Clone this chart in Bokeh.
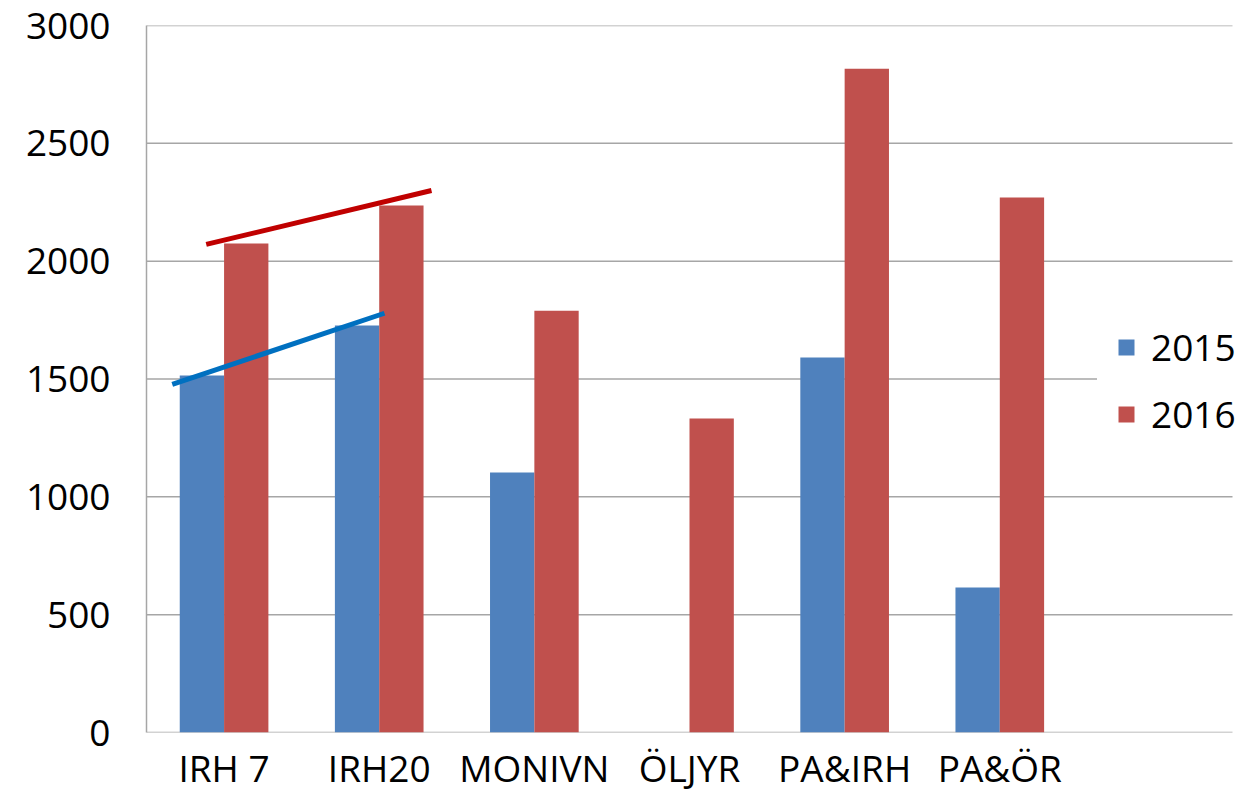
import numpy as np
from bokeh.plotting import figure
from bokeh.models import Range1d, FixedTicker, Legend, LegendItem, ColumnDataSource
from bokeh.embed import file_html
from bokeh.resources import INLINE

categories = ["IRH 7", "IRH20", "MONIVN", "ÖLJYR", "PA&IRH", "PA&ÖR"]
values_2015 = [1515, 1727, 1103, 0, 1591, 615]
values_2016 = [2075, 2236, 1790, 1332, 2817, 2270]
series_names = ["2015", "2016"]
y_ticks = [0, 500, 1000, 1500, 2000, 2500, 3000]
# hand-drawn trend lines (x in category units, y in data units)
trend_2015_x = [0.166, 1.534]
trend_2015_y = [1477, 1779]
trend_2016_x = [0.385, 1.837]
trend_2016_y = [2071, 2300]

n_slots = 7
FONT = "Open Sans"
BLUE = "#4F81BD"
RED = "#C0504D"
GRID = "#A6A6A6"

W, H = 1237, 796
left, top, bottom = 146, 25, 64
slot_px = 1086 / n_slots
x_end = (W - left) / slot_px  # frame runs to canvas edge; grid stops at n_slots

p = figure(width=W, height=H, output_backend="svg", toolbar_location=None,
           x_range=Range1d(0, x_end), y_range=Range1d(0, 3000),
           min_border_left=left, min_border_right=0, min_border_top=top, min_border_bottom=bottom)
p.outline_line_color = None
p.background_fill_color = "white"

# horizontal gridlines (incl. category axis line at 0), ending at last slot
p.segment(x0=[0] * len(y_ticks), x1=[n_slots] * len(y_ticks), y0=y_ticks, y1=y_ticks,
          line_color=GRID, line_width=1.5)

centers = np.arange(len(categories)) + 0.5
group = 1 / 1.75
bw = group / 2
src = ColumnDataSource(dict(xb=centers - bw / 2, xr=centers + bw / 2,
                            v15=values_2015, v16=values_2016))
r15 = p.vbar(x="xb", top="v15", width=bw, source=src, fill_color=BLUE, line_color=None)
r16 = p.vbar(x="xr", top="v16", width=bw, source=src, fill_color=RED, line_color=None)

p.line(trend_2016_x, trend_2016_y, line_color="#C00000", line_width=5)
p.line(trend_2015_x, trend_2015_y, line_color="#0070C0", line_width=5)

# axes
p.yaxis.ticker = FixedTicker(ticks=y_ticks)
p.yaxis.major_label_text_font = FONT
p.yaxis.major_label_text_font_size = "37px"
p.yaxis.major_label_text_color = "black"
p.yaxis.major_label_standoff = 36
p.yaxis.major_tick_line_color = None
p.yaxis.major_tick_out = 0
p.yaxis.major_tick_in = 0
p.yaxis.minor_tick_line_color = None
p.yaxis.axis_line_color = GRID
p.yaxis.axis_line_width = 1.5

p.xaxis.ticker = FixedTicker(ticks=list(centers))
p.xaxis.major_label_overrides = {float(c): name for c, name in zip(centers, categories)}
p.xaxis.major_label_text_font = FONT
p.xaxis.major_label_text_font_size = "37px"
p.xaxis.major_label_text_color = "black"
p.xaxis.major_label_standoff = 9
p.xaxis.major_tick_line_color = None
p.xaxis.major_tick_out = 0
p.xaxis.major_tick_in = 0
p.xaxis.minor_tick_line_color = None
p.xaxis.axis_line_color = None

p.xgrid.grid_line_color = None
p.ygrid.grid_line_color = None

legend = Legend(items=[LegendItem(label=series_names[0], renderers=[r15]),
                       LegendItem(label=series_names[1], renderers=[r16])],
                location=(951, 274), orientation="vertical",
                label_text_font=FONT, label_text_font_size="37px",
                label_text_color="black",
                glyph_width=20, glyph_height=20, label_standoff=15,
                padding=18, spacing=16, margin=0,
                border_line_color="white", border_line_width=1,
                background_fill_color="white", background_fill_alpha=1.0)
p.add_layout(legend, "center")

open("out.html", "w").write(file_html(p, INLINE))
